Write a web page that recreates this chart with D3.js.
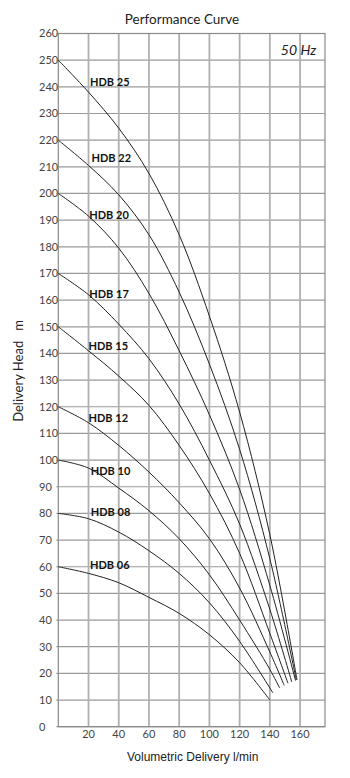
<!DOCTYPE html>
<html><head><meta charset="utf-8">
<script src="https://cdn.jsdelivr.net/npm/d3@7"></script>
<style>
html,body{margin:0;padding:0;background:#fff;}
svg{display:block;}
</style></head>
<body>
<svg id="chart" width="350" height="778"></svg>
<script>
// ---- data ----
const models = ["HDB 25","HDB 22","HDB 20","HDB 17","HDB 15","HDB 12","HDB 10","HDB 08","HDB 06"];
const flowPoints = [0,20,40,60,80,100,120,140];
const hdb25 = [250,238,224.5,207.5,184.5,154,118,72];
const hdb22 = [220,210.5,199.5,184.5,163,136,104,63];
const hdb20 = [200,191.5,179.5,162.5,141,117,89,53];
const hdb17 = [170,162,151,138,121,100,76,44];
const hdb15 = [150,141,131.5,120.5,105.5,87.5,65,35];
const hdb12 = [120,114,105.5,95.5,84,70.5,52,28];
const hdb10 = [100,97,89.5,81,70.5,57,40,21.5];
const hdb08 = [80,78,73,66,57.5,46.5,32,null];
const hdb06 = [60,57.5,54,48.5,42.5,34.5,24,null];
const endFlow = [158,157.5,157,154.5,152,149.5,146.5,142,140];
const endHead = [17.5,17.5,17.3,16.8,16.3,15.5,14.5,12.7,10];
const labelFlow = [21,22,20.5,20.5,20,20,21.5,21.5,21];
const labelHead = [241.8,213.2,191.7,162.3,142.9,115.9,96,80.3,60.7];
const xTicks = [20,40,60,80,100,120,140,160];
const yTicks = d3.range(0,261,10);
const title = "Performance Curve";
const freqLabel = "50 Hz";
const xTitle = "Volumetric Delivery l/min";
const yTitle = "Delivery Head   m";

// ---- layout ----
const svg = d3.select("#chart");
const L = 58.3, R = 325, T = 33.5, B = 726.7;
const x = d3.scaleLinear().domain([0,176.5]).range([L,R]);
const y = d3.scaleLinear().domain([0,260]).range([B,T]);
const font = "Lato, 'Open Sans', sans-serif";

// grid horizontal
svg.append("g").selectAll("line").data(yTicks).join("line")
  .attr("x1",L).attr("x2",R).attr("y1",d=>y(d)).attr("y2",d=>y(d))
  .attr("stroke","#9a9a9a").attr("stroke-width",1.2);
// grid vertical
svg.append("g").selectAll("line").data(xTicks).join("line")
  .attr("y1",T).attr("y2",B).attr("x1",d=>x(d)).attr("x2",d=>x(d))
  .attr("stroke","#b0b0b0").attr("stroke-width",1.8);
// frame
svg.append("rect").attr("x",L).attr("y",T).attr("width",R-L).attr("height",B-T)
  .attr("fill","none").attr("stroke","#8a8a8a").attr("stroke-width",1.2);

// y tick labels (left aligned)
svg.append("g").selectAll("text").data(yTicks).join("text")
  .attr("x",39).attr("y",d=>y(d)).attr("dy","0.35em")
  .attr("font-family",font).attr("font-size",11).attr("fill","#444")
  .text(d=>d);
// small y ticks
svg.append("g").selectAll("line").data(yTicks).join("line")
  .attr("x1",L-2).attr("x2",L).attr("y1",d=>y(d)).attr("y2",d=>y(d))
  .attr("stroke","#888");

// x tick labels
svg.append("g").selectAll("text").data(xTicks).join("text")
  .attr("x",d=>x(d)).attr("y",B+7).attr("dy","0.35em").attr("text-anchor","middle")
  .attr("font-family",font).attr("font-size",11).attr("fill","#444")
  .text(d=>d);

// curves
const series = [hdb25,hdb22,hdb20,hdb17,hdb15,hdb12,hdb10,hdb08,hdb06];
const line = d3.line().x(d=>x(d[0])).y(d=>y(d[1])).curve(d3.curveCatmullRom.alpha(0.5));
series.forEach((vals,i)=>{
  const pts = [];
  vals.forEach((v,j)=>{ if(v!==null) pts.push([flowPoints[j],v]); });
  if (pts[pts.length-1][0] !== endFlow[i]) pts.push([endFlow[i],endHead[i]]);
  svg.append("path").datum(pts).attr("d",line)
    .attr("fill","none").attr("stroke","#222").attr("stroke-width",1);
  svg.append("text").attr("x",x(labelFlow[i])).attr("y",y(labelHead[i])).attr("dy","0.35em")
    .attr("font-family",font).attr("font-weight","bold").attr("font-size",11).attr("fill","#111")
    .text(models[i]);
});

// titles
svg.append("text").attr("x",182).attr("y",19).attr("dy","0.35em").attr("text-anchor","middle")
  .attr("font-family",font).attr("font-size",13.5).attr("fill","#222").text(title);
svg.append("text").attr("x",298.5).attr("y",50).attr("dy","0.35em").attr("text-anchor","middle")
  .attr("font-family",font).attr("font-style","italic").attr("font-size",14).attr("fill","#222").text(freqLabel);
svg.append("text").attr("x",192.7).attr("y",756.7).attr("dy","0.35em").attr("text-anchor","middle")
  .attr("font-family","'Liberation Sans', Arial, sans-serif").attr("font-size",12).attr("fill","#222").text(xTitle);
svg.append("text").attr("transform","translate(18,371) rotate(-90)").attr("dy","0.35em").attr("text-anchor","middle")
  .attr("font-family",font).attr("font-size",13).attr("fill","#222").style("white-space","pre").text(yTitle);
</script>
</body></html>
